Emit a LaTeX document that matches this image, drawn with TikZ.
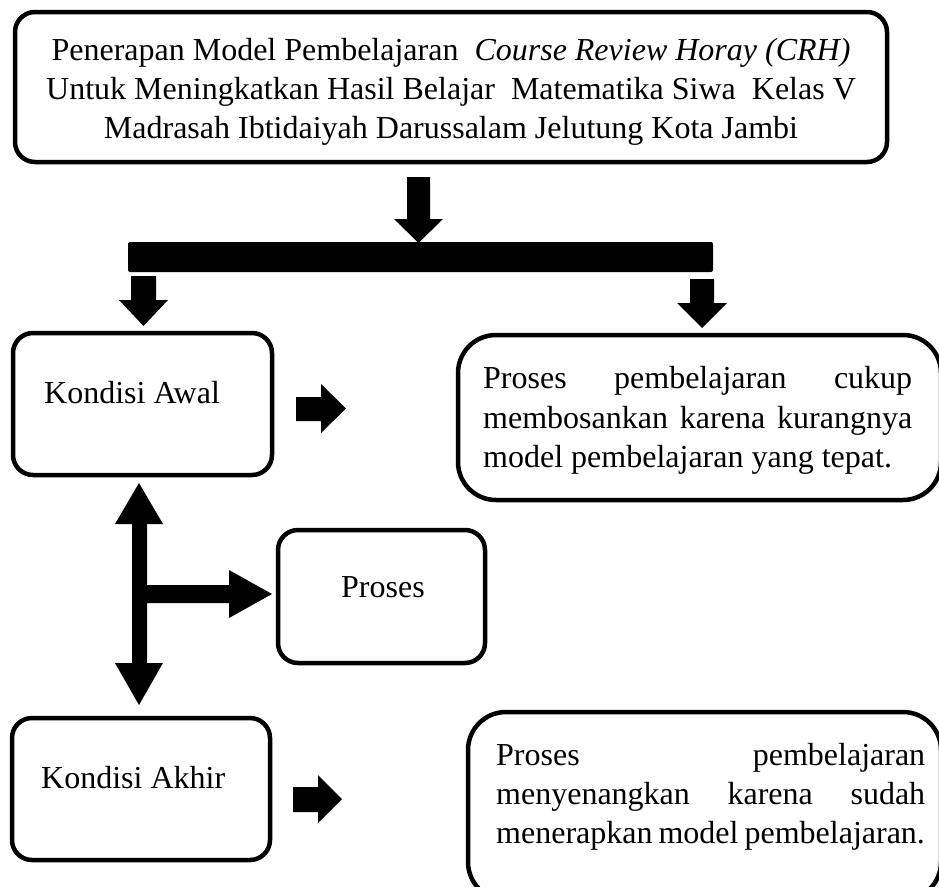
\documentclass[tikz,border=0pt]{standalone}
\usepackage{fontspec}
\setmainfont{Liberation Serif}
\begin{document}
\begin{tikzpicture}[x=1pt,y=-1pt,
  txt/.style={inner sep=0pt, font=\fontsize{32pt}{39pt}\selectfont},
  box/.style={draw, line width=4.5pt, rounded corners=20pt, inner sep=0pt},
  bigbox/.style={draw, line width=4.5pt, rounded corners=38pt, inner sep=0pt},
  blk/.style={fill=black}]
\useasboundingbox (0,0) rectangle (939,886);
\clip (0,0) rectangle (939,886);
% boxes
\node[box, minimum width=872pt, minimum height=150pt] (top) at (451,87) {};
\node[box, minimum width=259pt, minimum height=142pt] (awal) at (142.5,404) {};
\node[box, minimum width=207pt, minimum height=133pt] (proses) at (381.5,596.5) {};
\node[box, minimum width=258pt, minimum height=142pt] (akhir) at (141,789) {};
\node[bigbox, minimum width=483pt, minimum height=165pt] (r1) at (699.5,417.5) {};
\node[bigbox, minimum width=473pt, minimum height=188pt] (r2) at (704.5,806) {};
% top box text
\node[txt, anchor=base] (t1) at (451,60) {Penerapan Model Pembelajaran\ \ \textit{Course Review Horay (CRH)}};
\node[txt, anchor=base] (t2) at (451,99) {Untuk Meningkatkan Hasil Belajar\ \ Matematika Siwa\ \ Kelas V};
\node[txt, anchor=base] (t3) at (451,138) {Madrasah Ibtidaiyah Darussalam Jelutung Kota Jambi};
% labels
\node[txt, anchor=base west] (la) at (44,403) {Kondisi Awal};
\node[txt, anchor=base west] (lp) at (341,597) {Proses};
\node[txt, anchor=base west] (lk) at (41,788) {Kondisi Akhir};
% right box 1 text
\node[txt, anchor=base west] (a1) at (483,388) {\makebox[429pt][s]{Proses pembelajaran cukup}};
\node[txt, anchor=base west] (a2) at (483,428) {\makebox[429pt][s]{membosankan karena kurangnya}};
\node[txt, anchor=base west] (a3) at (483,467) {model pembelajaran yang tepat.};
% right box 2 text
\node[txt, anchor=base west] (b1) at (496,765) {\makebox[429pt][s]{Proses pembelajaran}};
\node[txt, anchor=base west] (b2) at (496,804) {\makebox[429pt][s]{menyenangkan karena sudah}};
\node[txt, anchor=base west] (b3) at (496,843) {menerapkan\hspace{6pt}model\hspace{6pt}pembelajaran.};
% bar
\node[blk, rounded corners=2pt, minimum width=585pt, minimum height=30pt, inner sep=0pt] (bar) at (420.5,257) {};
% block arrows
\fill[blk] (407,177)--(430,177)--(430,219)--(443,219)--(418.5,243)--(394,219)--(407,219)--cycle;
\fill[blk] (131,276)--(156,276)--(156,300)--(168,300)--(143.5,326)--(119,300)--(131,300)--cycle;
\fill[blk] (690,279)--(714,279)--(714,303)--(727,303)--(702,328)--(677,303)--(690,303)--cycle;
\fill[blk] (296,397)--(321,397)--(321,384)--(346,408.5)--(321,433)--(321,421)--(296,421)--cycle;
\fill[blk] (293,787)--(318,787)--(318,775)--(342,799)--(318,823)--(318,812)--(293,812)--cycle;
\fill[blk] (132,524)--(115,524)--(139,483)--(163,524)--(147,524)--(147,585)--(229,585)--(229,570)--(272,594)--(229,618)--(229,603)--(147,603)--(147,663)--(163,663)--(139,705)--(115,663)--(132,663)--cycle;
\end{tikzpicture}
\end{document}
